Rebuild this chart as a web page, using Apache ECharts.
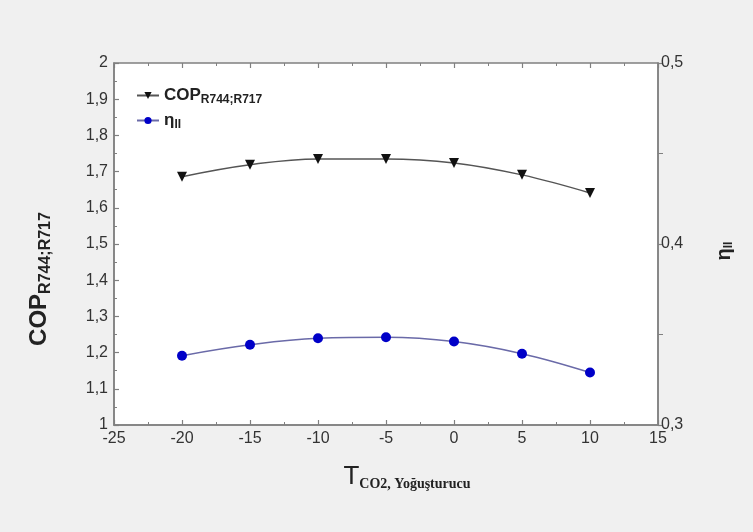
<!DOCTYPE html>
<html>
<head>
<meta charset="utf-8">
<script src="https://cdn.jsdelivr.net/npm/echarts@6/dist/echarts.min.js"></script>
<style>
  html, body { margin: 0; background: #f0f0f0; }
  #chart { width: 753px; height: 532px; }
</style>
</head>
<body>
<div id="chart"></div>
<script>
// condenser temperature (x) and the two curves
const temps = [-20, -15, -10, -5, 0, 5, 10]
const copValues = [1.686, 1.719, 1.735, 1.735, 1.724, 1.691, 1.641]
const etaValues = [0.3383, 0.3443, 0.3479, 0.3485, 0.3461, 0.3394, 0.329]

const xRange = [-25, 15]
const copRange = [1, 2]
const etaRange = [0.3, 0.5]

const comma = v => String(+v.toFixed(2)).replace('.', ',')
const font = 'Liberation Sans, Arial, sans-serif'

const chart = echarts.init(document.getElementById('chart'))

const tickStyle = { inside: true, length: 5, lineStyle: { color: '#808080', width: 1.2 } }
const minorStyle = { show: true, splitNumber: 2, length: 3, lineStyle: { color: '#808080', width: 1 } }
const axisLine = { show: true, onZero: false, lineStyle: { color: '#808080', width: 1.5 } }

chart.setOption({
  backgroundColor: '#f0f0f0',
  animation: false,
  grid: {
    left: 114, right: 95, top: 63, bottom: 107,
    show: true, backgroundColor: '#fff', borderColor: '#808080', borderWidth: 1.5
  },
  legend: {
    left: 131, top: 82, orient: 'vertical', itemGap: 6, itemWidth: 22, itemHeight: 9,
    data: ['COP', 'eta'],
    formatter: n => n === 'COP' ? '{m|COP}{s|R744;R717}' : '{m|η}{s|II}',
    textStyle: {
      rich: {
        m: { fontFamily: font, fontSize: 17, fontWeight: 'bold', color: '#222' },
        s: { fontFamily: font, fontSize: 12, fontWeight: 'bold', color: '#222', padding: [9, 0, 0, 0] }
      }
    }
  },
  xAxis: [{
    type: 'value', min: xRange[0], max: xRange[1], interval: 5,
    name: '{t|T}{s|CO2, Yoğuşturucu}', nameLocation: 'middle', nameGap: 38,
    nameTextStyle: {
      padding: [0, 0, 0, 42],
      rich: {
        t: { fontFamily: font, fontSize: 26, color: '#222' },
        s: { fontFamily: 'Liberation Serif, Times New Roman, serif', fontSize: 14, fontWeight: 'bold', color: '#222', padding: [14, 0, 0, 0] }
      }
    },
    axisLine: axisLine,
    axisTick: tickStyle, minorTick: minorStyle,
    splitLine: { show: false },
    axisLabel: { fontFamily: font, fontSize: 16, color: '#333', margin: 6 }
  }, {
    type: 'value', position: 'top', min: xRange[0], max: xRange[1], interval: 5,
    axisLine: { show: false }, axisTick: tickStyle, minorTick: minorStyle,
    axisLabel: { show: false }, splitLine: { show: false }
  }],
  yAxis: [{
    type: 'value', min: copRange[0], max: copRange[1], interval: 0.1,
    name: '{m|COP}{s|R744;R717}', nameLocation: 'middle', nameGap: 60, nameRotate: 90,
    nameTextStyle: {
      padding: [0, 70, 0, 0],
      rich: {
        m: { fontFamily: font, fontSize: 24, fontWeight: 'bold', color: '#222' },
        s: { fontFamily: font, fontSize: 16, fontWeight: 'bold', color: '#222', padding: [13, 0, 0, 0] }
      }
    },
    axisLine: axisLine,
    axisTick: tickStyle, minorTick: minorStyle,
    splitLine: { show: false },
    axisLabel: { fontFamily: font, fontSize: 16, color: '#333', margin: 6, formatter: comma }
  }, {
    type: 'value', min: etaRange[0], max: etaRange[1], interval: 0.1,
    name: '{m|η}{s|II}', nameLocation: 'middle', nameGap: 56, nameRotate: 90,
    nameTextStyle: {
      padding: [0, 14, 0, 0],
      rich: {
        m: { fontFamily: font, fontSize: 20, fontWeight: 'bold', color: '#222' },
        s: { fontFamily: font, fontSize: 12, fontWeight: 'bold', color: '#222', padding: [9, 0, 0, 0] }
      }
    },
    axisLine: axisLine,
    axisTick: { ...tickStyle, inside: false },
    minorTick: { ...minorStyle, length: 5 },
    splitLine: { show: false },
    axisLabel: { fontFamily: font, fontSize: 16, color: '#333', margin: 3, formatter: comma }
  }],
  series: [{
    name: 'COP', type: 'line', yAxisIndex: 0, smooth: 0.4,
    data: temps.map((t, i) => [t, copValues[i]]),
    symbol: 'triangle', symbolRotate: 180, symbolSize: 10,
    itemStyle: { color: '#111' },
    lineStyle: { color: '#555', width: 1.5 }
  }, {
    name: 'eta', type: 'line', yAxisIndex: 1, smooth: 0.4,
    data: temps.map((t, i) => [t, etaValues[i]]),
    symbol: 'circle', symbolSize: 10,
    itemStyle: { color: '#0000c8' },
    lineStyle: { color: '#6a6aa8', width: 1.5 }
  }]
})
</script>
</body>
</html>
